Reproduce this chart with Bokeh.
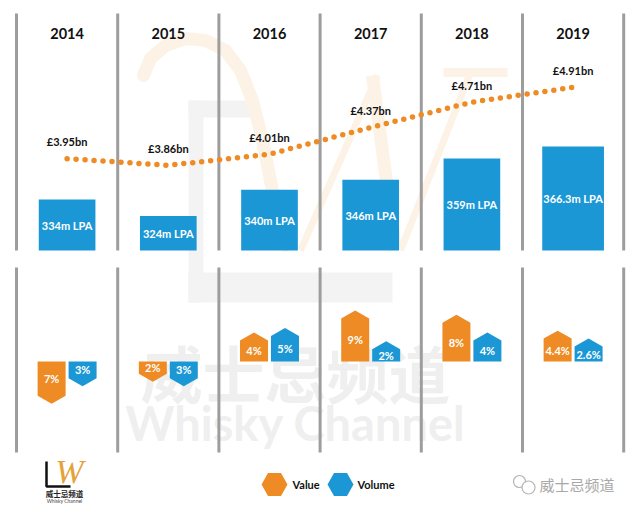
import math
from bokeh.plotting import figure
from bokeh.models import Range1d
from bokeh.core.properties import value
from bokeh.embed import file_html
from bokeh.resources import INLINE

# ---------------- data ----------------
years = ["2014", "2015", "2016", "2017", "2018", "2019"]
value_bn = [3.95, 3.86, 4.01, 4.37, 4.71, 4.91]
value_labels = ["£3.95bn", "£3.86bn", "£4.01bn", "£4.37bn", "£4.71bn", "£4.91bn"]
volume_mlpa = [334, 324, 340, 346, 359, 366.3]
volume_labels = ["334m LPA", "324m LPA", "340m LPA", "346m LPA", "359m LPA", "366.3m LPA"]
value_change_pct = [-7, -2, 4, 9, 8, 4.4]
volume_change_pct = [-3, -3, 5, 2, 4, 2.6]
legend_labels = ["Value", "Volume"]

# ---------------- styling / layout ----------------
ORANGE = "#EE8B24"
BLUE = "#1B97D5"
GRAY = "#9d9d9d"
FONT = "Lato"
W, H = 632, 504
COL0, COLW = 16.0, 101.2          # canvas px of first separator, column width


def px2x(px):
    return -0.5 + (px - COL0) / COLW


def pxs(lst):
    return [px2x(v) for v in lst]


def mk_range(v0, y0, ppu):
    # value v0 drawn at canvas y0, ppu pixels per unit, upward
    return Range1d(start=v0 - (H - y0) / ppu, end=v0 + y0 / ppu)


LPA_BASE = 303.0
p = figure(width=W, height=H, output_backend="svg", toolbar_location=None,
           x_range=Range1d(px2x(0), px2x(W)), y_range=Range1d(start=H, end=0),
           min_border=0, outline_line_color=None, background_fill_color="white",
           border_fill_color="white")
p.xaxis.visible = False
p.yaxis.visible = False
p.grid.visible = False
p.extra_y_ranges = {
    "lpa": mk_range(LPA_BASE, 250, 1.644),
    "bn": mk_range(4.3017, 132, 74.3),
    "pct": mk_range(0.0, 361, 4.4),
}

idx = list(range(len(years)))

# ---------------- faint background watermark ----------------
WM_GRAY = "#f3f3f3"
WM_ORANGE = "#fcf3e6"
p.quad(left=pxs([188, 188, 188]), right=pxs([203, 250, 392]),
       top=[100, 100, 272], bottom=[302, 117, 302], fill_color=WM_GRAY, line_color=None)
p.line(x=pxs([143, 150, 165, 185, 205, 225, 240, 252, 262, 272, 285]),
       y=[75, 58, 45, 38, 40, 50, 70, 100, 140, 190, 245],
       line_color=WM_ORANGE, line_width=13, line_cap="round", line_join="round")
p.multi_line(xs=[pxs([300, 377]), pxs([372, 395]), pxs([400, 470]), pxs([443, 507])],
             ys=[[250, 75], [75, 250], [250, 72], [72, 72]],
             line_color=WM_ORANGE, line_width=[7, 13, 7, 9])
p.text(x=[px2x(295)], y=[371], text=["威士忌频道"], text_font=value("Noto Sans CJK SC"),
       text_font_style="bold", text_font_size="62px", text_color="#efefef",
       text_align="center", text_baseline="middle")
p.text(x=[px2x(295)], y=[422], text=["Whisky Channel"], text_font=value(FONT),
       text_font_style="bold", text_font_size="47px", text_color="#efefef",
       text_align="center", text_baseline="middle")

# ---------------- separators ----------------
seps = [k - 0.5 for k in range(len(years) + 1)]
p.segment(x0=seps, y0=[13] * len(seps), x1=seps, y1=[250] * len(seps),
          line_color=GRAY, line_width=3)
p.segment(x0=seps, y0=[267] * len(seps), x1=seps, y1=[452] * len(seps),
          line_color=GRAY, line_width=3)

# ---------------- year labels ----------------
p.text(x=idx, y=[33] * len(idx), text=years, text_font=value(FONT), text_font_style="bold",
       text_font_size="14.5px", text_color="#111111", text_align="center",
       text_baseline="middle")

# ---------------- volume bars ----------------
bar_w = [0.56] * 5 + [0.61]
p.vbar(x=idx, top=volume_mlpa, bottom=LPA_BASE, width=bar_w, y_range_name="lpa",
       fill_color=BLUE, line_color=None)
p.text(x=idx, y=[(v + LPA_BASE) / 2 for v in volume_mlpa], text=volume_labels,
       y_range_name="lpa", text_font=value(FONT), text_font_style="bold",
       text_font_size="11px", text_color="white", text_align="center",
       text_baseline="middle")

# ---------------- value line ----------------
p.line(x=idx, y=value_bn, y_range_name="bn", line_color=ORANGE, line_width=5.5,
       line_dash="0 9", line_cap="round")
p.text(x=idx, y=value_bn, text=value_labels, y_range_name="bn", y_offset=-17,
       text_font=value(FONT), text_font_style="bold", text_font_size="11px",
       text_color="#111111", text_align="center", text_baseline="middle")

# ---------------- percentage change markers ----------------
HW = 14 / COLW
PAD, ROOF = 0.8, 1.8


def arrow(c, pct):
    s = 1 if pct >= 0 else -1
    top = s * (abs(pct) + PAD)
    tip = top + s * ROOF
    return [c - HW, c - HW, c, c + HW, c + HW], [0, top, tip, top, 0]


for vals, off, col in ((value_change_pct, -0.153, ORANGE), (volume_change_pct, 0.153, BLUE)):
    xs, ys, lx, ly, lt = [], [], [], [], []
    for i, v in enumerate(vals):
        ax, ay = arrow(i + off, v)
        xs.append(ax)
        ys.append(ay)
        s = 1 if v >= 0 else -1
        lx.append(i + off)
        ly.append(s * (abs(v) + PAD) / 2)
        lt.append(f"{abs(v):g}%")
    p.patches(xs=xs, ys=ys, y_range_name="pct", fill_color=col, line_color=None)
    p.text(x=lx, y=ly, text=lt, y_range_name="pct", text_font=value(FONT),
           text_font_style="bold", text_font_size="11px", text_color="white",
           text_align="center", text_baseline="middle")

# ---------------- legend (flat-topped hexagons) ----------------
def hexagon(cx, cy, hw=13.0, hh=11.5):
    return (pxs([cx - hw, cx - hw / 2, cx + hw / 2, cx + hw, cx + hw / 2, cx - hw / 2]),
            [cy, cy - hh, cy - hh, cy, cy + hh, cy + hh])


hx1, hy1 = hexagon(274, 484)
hx2, hy2 = hexagon(340, 484)
p.patches(xs=[hx1, hx2], ys=[hy1, hy2], fill_color=[ORANGE, BLUE], line_color=None)
p.text(x=[px2x(292), px2x(357)], y=[484, 484], text=legend_labels, text_font=value(FONT),
       text_font_style="bold", text_font_size="11px", text_color="#111111",
       text_align="left", text_baseline="middle")

# ---------------- logo bottom-left ----------------
p.line(x=pxs([46, 46, 70]), y=[461, 486, 486], line_color="#111111", line_width=2.5)
p.text(x=[px2x(69)], y=[471], text=["W"], text_font=value("Liberation Serif"),
       text_font_style="italic", text_font_size="34px", text_color="#E4A238",
       text_align="center", text_baseline="middle")
p.text(x=[px2x(64)], y=[493], text=["威士忌频道"], text_font=value("Noto Sans CJK SC"),
       text_font_style="bold", text_font_size="7.5px", text_color="#222222",
       text_align="center", text_baseline="middle")
p.text(x=[px2x(64)], y=[500], text=["Whisky Channel"], text_font=value(FONT),
       text_font_size="5px", text_color="#444444", text_align="center",
       text_baseline="middle")

# ---------------- WeChat mark bottom-right ----------------
p.scatter(x=[px2x(519), px2x(528)], y=[481, 487], marker="circle", size=[12, 13],
          fill_color="white", line_color="#b5b5b5", line_width=1.2)
p.text(x=[px2x(539)], y=[484], text=["威士忌频道"], text_font=value("Noto Sans CJK SC"),
       text_font_size="15px", text_color="#a8a8a8", text_align="left",
       text_baseline="middle")

open("out.html", "w").write(file_html(p, INLINE))
